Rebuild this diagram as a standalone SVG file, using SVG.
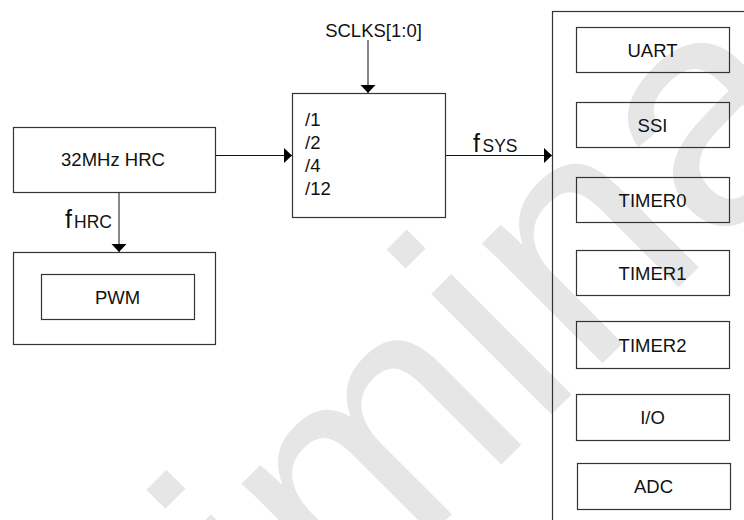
<svg xmlns="http://www.w3.org/2000/svg" width="744" height="520" viewBox="0 0 744 520">
<defs>
<style>
.box{fill:none;stroke:#333;stroke-width:1.2}
.wire{fill:none;stroke:#111;stroke-width:1}
.t{font-family:"Liberation Sans",Arial,sans-serif;font-size:18.5px;fill:#111}
.c{text-anchor:middle}
.f{font-family:"Liberation Sans",Arial,sans-serif;font-size:25px;fill:#111}
.sub{font-family:"Liberation Sans",Arial,sans-serif;font-size:17.5px;fill:#111}
.wm{font-family:"Liberation Sans",Arial,sans-serif;font-size:322px;fill:#e6e6e6}
</style>
<marker id="arr" markerUnits="userSpaceOnUse" markerWidth="10" markerHeight="16" refX="8" refY="7.5" orient="auto">
<path d="M0,0 L8,7.5 L0,15 z" fill="#000"/>
</marker>
</defs>
<rect width="744" height="520" fill="#fff"/>
<text class="wm" transform="rotate(-45)" x="-837" y="683">Preliminary</text>

<g id="connectors">
<path class="wire" d="M215.5,155.5 H292" marker-end="url(#arr)"/>
<path class="wire" d="M368,40 V93" marker-end="url(#arr)"/>
<path class="wire" d="M445.5,155.5 H552" marker-end="url(#arr)"/>
<path class="wire" d="M119,192.5 V252" marker-end="url(#arr)"/>
<text class="f" x="473" y="152">f<tspan class="sub" x="482.5">SYS</tspan></text>
<text class="f" x="65" y="228">f<tspan class="sub" x="74">HRC</tspan></text>
<text class="t c" x="373.5" y="37">SCLKS[1:0]</text>
</g>

<g id="hrc">
<rect class="box" x="13.5" y="127.5" width="202" height="65"/>
<text class="t c" x="113" y="166">32MHz HRC</text>
</g>

<g id="divider">
<rect class="box" x="292.5" y="93.5" width="153" height="124"/>
<text class="t" x="305" y="126">/1</text>
<text class="t" x="305" y="149">/2</text>
<text class="t" x="305" y="172">/4</text>
<text class="t" x="305" y="195">/12</text>
</g>

<g id="pwm-block">
<rect class="box" x="13.5" y="252.5" width="202" height="92"/>
<g id="pwm">
<rect class="box" x="41.5" y="274.5" width="153" height="45"/>
<text class="t c" x="117.5" y="303.5">PWM</text>
</g>
</g>

<g id="peripherals">
<rect class="box" x="552.5" y="11.5" width="260" height="560"/>
<g id="uart"><rect class="box" x="576.5" y="27.5" width="153" height="45"/><text class="t c" x="652.5" y="56.5">UART</text></g>
<g id="ssi"><rect class="box" x="576.5" y="102.5" width="153" height="45"/><text class="t c" x="652.5" y="131.5">SSI</text></g>
<g id="timer0"><rect class="box" x="576.5" y="177.5" width="153" height="45"/><text class="t c" x="652.5" y="206.5">TIMER0</text></g>
<g id="timer1"><rect class="box" x="576.5" y="250.5" width="153" height="45"/><text class="t c" x="652.5" y="279.5">TIMER1</text></g>
<g id="timer2"><rect class="box" x="576.5" y="321.5" width="153" height="47"/><text class="t c" x="652.5" y="351.5">TIMER2</text></g>
<g id="io"><rect class="box" x="576.5" y="394.5" width="153" height="46"/><text class="t c" x="652.5" y="424">I/O</text></g>
<g id="adc"><rect class="box" x="577.5" y="463.5" width="153" height="46"/><text class="t c" x="653.5" y="493">ADC</text></g>
</g>
</svg>
